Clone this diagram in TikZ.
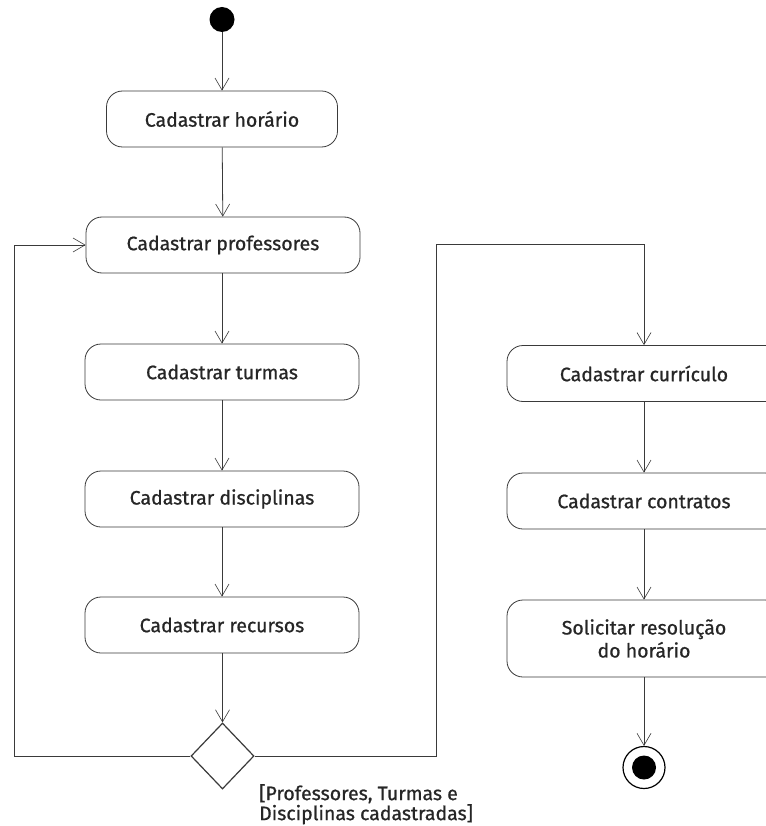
\documentclass[tikz,border=0pt]{standalone}
\usepackage{fontspec}
\setmainfont{Fira Sans}
\newfontfamily\medf{Fira Sans}[FakeBold=0.8]
\usetikzlibrary{arrows.meta,shapes.geometric}
\definecolor{lc}{HTML}{3A3A3A}
\tikzset{
  act/.style={draw=lc, line width=0.8pt, rounded corners=16pt, minimum width=274pt, minimum height=56pt, align=center, font=\medf\fontsize{19.5}{23}\selectfont, text=black!85, inner sep=0pt},
  conn/.style={draw=lc, line width=0.8pt, -{Straight Barb[length=12pt,width=14pt,line width=0.6pt]}},
  plain/.style={draw=lc, line width=0.8pt}
}
\begin{document}
\begin{tikzpicture}[x=1pt,y=-1pt]
\useasboundingbox (0,0) rectangle (765,826);
\fill[white] (0,0) rectangle (765,826);
\node[circle, fill=black, minimum size=25pt, inner sep=0pt] (start) at (222,19.5) {};
\node[act, minimum width=231pt] (hor) at (222,119) {Cadastrar horário};
\node[act] (prof) at (223,245) {Cadastrar professores};
\node[act] (turm) at (222,372) {Cadastrar turmas};
\node[act] (disc) at (222,499) {Cadastrar disciplinas};
\node[act] (recu) at (222,625) {Cadastrar recursos};
\node[diamond, draw=lc, line width=1.2pt, minimum width=63pt, minimum height=66pt, inner sep=0pt] (dec) at (222.5,756) {};
\node[act] (curr) at (644,373.5) {Cadastrar currículo};
\node[act] (cont) at (644,501) {Cadastrar contratos};
\node[act, minimum height=77pt] (soli) at (644,638.5) {Solicitar resolução\\do horário};
\node[circle, draw=black, line width=1.2pt, minimum size=42pt, inner sep=0pt] (endn) at (644,767.5) {};
\node[circle, fill=black, minimum size=24pt, inner sep=0pt] (endi) at (644,767.5) {};
\node[anchor=north west, align=left, font=\medf\fontsize{19.5}{20}\selectfont, text=black!85, inner sep=0pt] (lab) at (259,784) {[Professores, Turmas e\\Disciplinas cadastradas]};
\coordinate (l1) at (14,756);
\coordinate (l2) at (14,245);
\coordinate (r1) at (436,756);
\coordinate (r2) at (436,244);
\coordinate (r3) at (644,244);
\draw[conn] (start) -- (hor);
\draw[conn] (hor) -- (prof);
\draw[conn] (prof.south -| turm.north) -- (turm);
\draw[conn] (turm) -- (disc);
\draw[conn] (disc) -- (recu);
\draw[conn] (recu.south -| dec.north) -- (dec);
\draw[conn] (dec.west) -- (l1) -- (l2) -- (prof.west);
\draw[conn] (dec.east) -- (r1) -- (r2) -- (r3) -- (curr.north);
\draw[conn] (curr) -- (cont);
\draw[conn] (cont) -- (soli);
\draw[conn] (soli) -- (endn);
\end{tikzpicture}
\end{document}
